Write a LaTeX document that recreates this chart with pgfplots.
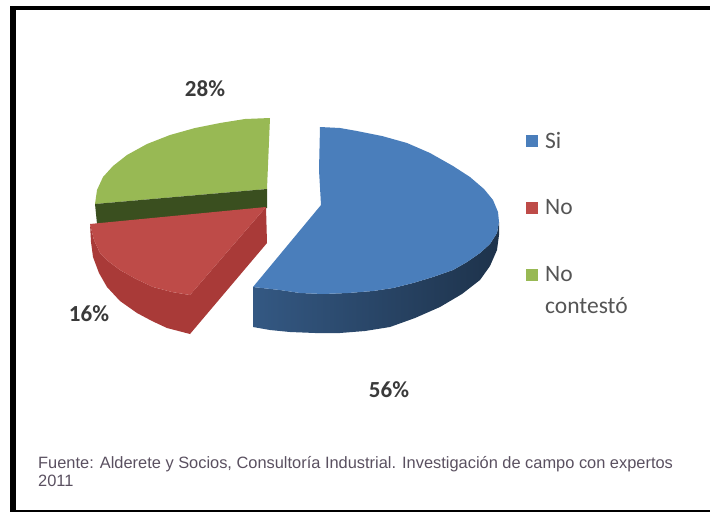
\documentclass[border=0pt]{standalone}
\usepackage{pgfplots}
\pgfplotsset{compat=1.18}
\usepackage{fontspec}
\setmainfont{Carlito}
\newfontfamily\srcfont{Liberation Sans}
\definecolor{blueTop}{HTML}{4A7EBB}
\definecolor{redTop}{HTML}{BE4B48}
\definecolor{redSide}{HTML}{A93A38}
\definecolor{greenTop}{HTML}{98B954}
\definecolor{darkGreen}{HTML}{3A4F1F}
\definecolor{labelGray}{HTML}{3A3A3A}
\definecolor{legGray}{HTML}{555555}
\definecolor{srcGray}{HTML}{5A5060}
\begin{document}
\begin{tikzpicture}
\begin{axis}[
    hide axis,
    scale only axis,
    width=710pt, height=512pt,
    xmin=0, xmax=710, ymin=0, ymax=512,
    y dir=reverse,
    clip=false,
]
% keep the page at the full axis size, hide axis does not do it
\path (axis cs:0,0) (axis cs:710,512);

% frame: top, left and bottom only, open on the right
\addplot[fill=black, draw=none] coordinates {(10,6) (710,6) (710,10) (10,10)} -- cycle;
\addplot[fill=black, draw=none] coordinates {(10,6) (16,6) (16,512) (10,512)} -- cycle;
\addplot[fill=black, draw=none] coordinates {(10,510) (710,510) (710,512) (10,512)} -- cycle;

% green slice
\addplot[fill=greenTop, draw=none] coordinates {
    (270,118) (245,119) (220,123) (195,128) (170,135) (147,144) (127,155)
    (113,166) (103,177) (97,190) (95,204) (267,189)
} -- cycle;
\addplot[fill=darkGreen, draw=none] coordinates {
    (95,204) (97,224) (267,208) (267,189)
} -- cycle;

% red slice, sides first
\addplot[fill=redSide, draw=none] coordinates {
    (266,207) (267,243) (190,334) (190,295)
} -- cycle;
\addplot[fill=redSide, draw=none] coordinates {
    (90,224) (91,242) (93,257) (99,273) (107,287) (120,301) (137,313) (152,321)
    (167,328) (190,334) (190,295) (172,292) (153,287) (136,279) (120,270) (108,261) (100,253) (94,240)
} -- cycle;
\addplot[fill=redTop, draw=none] coordinates {
    (90,224) (266,207) (190,295) (172,292) (153,287) (136,279) (120,270) (108,261) (100,253) (94,240)
} -- cycle;

% blue slice
\addplot[left color=blueTop!70!black, middle color=blueTop!60!black, right color=blueTop!40!black, draw=none] coordinates {
    (253,287) (253,327) (270,330) (290,332) (315,333) (340,333) (365,331) (390,327) (415,318) (440,307)
    (462,294) (480,280) (490,266) (497,250) (499,235) (499,222)
    (497,233) (490,244) (480,253) (467,262) (453,270) (433,277) (413,283) (393,288) (373,291)
    (348,293) (323,294) (300,293) (280,290)
} -- cycle;
\addplot[fill=blueTop, draw=none] coordinates {
    (320,127) (340,128) (357,131) (382,136) (407,143) (430,153) (453,166) (470,177) (484,189)
    (493,200) (498,212) (499,222) (497,233) (490,244) (480,253) (467,262) (453,270) (433,277)
    (413,283) (393,288) (373,291) (348,293) (323,294) (300,293) (280,290) (253,287) (321,205) (319,170)
} -- cycle;

% legend keys
\addplot[only marks, mark=square*, mark size=5.5pt, color=blueTop] coordinates {(532,141)};
\addplot[only marks, mark=square*, mark size=5.5pt, color=redTop] coordinates {(532,208)};
\addplot[only marks, mark=square*, mark size=5.5pt, color=greenTop] coordinates {(532,275)};

\node[anchor=west, inner sep=0pt, text=legGray, font=\fontsize{23.5}{28}\selectfont] at (axis cs:545,140) {Si};
\node[anchor=west, inner sep=0pt, text=legGray, font=\fontsize{23.5}{28}\selectfont] at (axis cs:545,207) {No};
\node[anchor=west, inner sep=0pt, text=legGray, font=\fontsize{23.5}{28}\selectfont] at (axis cs:545,274) {No};
\node[anchor=west, inner sep=0pt, text=legGray, font=\fontsize{23.5}{28}\selectfont] at (axis cs:545,306) {contestó};

\node[text=labelGray, font=\bfseries\fontsize{23}{28}\selectfont] at (axis cs:205,89) {28\%};
\node[text=labelGray, font=\bfseries\fontsize{23}{28}\selectfont] at (axis cs:89,314) {16\%};
\node[text=labelGray, font=\bfseries\fontsize{23}{28}\selectfont] at (axis cs:389,390) {56\%};

\node[anchor=west, inner sep=0pt, text=srcGray, font=\srcfont\fontsize{16.4}{20}\selectfont] at (axis cs:38,464) {Fuente: Alderete y Socios, Consultoría Industrial. Investigación de campo con expertos};
\node[anchor=west, inner sep=0pt, text=srcGray, font=\srcfont\fontsize{16.4}{20}\selectfont] at (axis cs:38,481) {2011};
\end{axis}
\end{tikzpicture}
\end{document}
